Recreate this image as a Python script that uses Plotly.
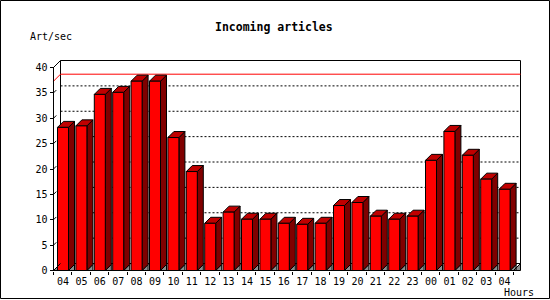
import plotly.graph_objects as go

# ---- data ----
hours = ["04", "05", "06", "07", "08", "09", "10", "11", "12", "13", "14", "15",
         "16", "17", "18", "19", "20", "21", "22", "23", "00", "01", "02", "03", "04"]
art_per_sec = [28.2, 28.5, 34.7, 35.1, 37.3, 37.3, 26.2, 19.5, 9.3, 11.5, 10.1, 10.1,
               9.3, 9.1, 9.3, 12.8, 13.4, 10.7, 10.1, 10.7, 21.7, 27.4, 22.7, 18.0, 16.0]
y_ticks = [0, 5, 10, 15, 20, 25, 30, 35, 40]

# ---- layout constants (pixels) ----
W, H = 550, 300
PX_X = 18.4      # pixels per category
PX_Y = 5.075     # pixels per unit
X0_PX = 53.5     # pixel of x=0
Y0_PX = 270.5    # pixel of y=0
n = len(hours)
ymax_axis = 40

fdx, fdy = 7 / PX_X, 7 / PX_Y        # frame depth
bdx, bdy = 6 / PX_X, 6 / PX_Y        # bar depth
b_off, b_w = 4 / PX_X, 11 / PX_X     # bar front offset and width

FRONT = "#ff0000"
TOP = "#c00000"
SIDE = "#800000"
GREY = "#8c8c8c"

fig = go.Figure()

def poly_trace(polys, fill, line_color="black", width=1, dash=None, mode="lines", closed=True):
    xs, ys = [], []
    for p in polys:
        pts = list(p) + ([p[0]] if closed else [])
        xs += [q[0] for q in pts] + [None]
        ys += [q[1] for q in pts] + [None]
    fig.add_trace(go.Scatter(
        x=xs, y=ys, mode=mode,
        fill="toself" if fill else None,
        fillcolor=fill,
        line=dict(color=line_color, width=width, dash=dash),
        hoverinfo="skip", showlegend=False))

# back wall
poly_trace([[(fdx, fdy), (n + fdx, fdy), (n + fdx, ymax_axis + fdy), (fdx, ymax_axis + fdy)]], "white")

# dotted grid on back wall
grid = [[(fdx, v + fdy), (n + fdx, v + fdy)] for v in y_ticks if 0 < v < ymax_axis]
poly_trace(grid, None, dash="2px,2px", closed=False)

# max line (red)
vmax = max(art_per_sec)
poly_trace([[(0, vmax), (fdx, vmax + fdy), (n + fdx, vmax + fdy)]], None, line_color="#ff0000", closed=False)

# floor triangles at the corners
poly_trace([[(0, 0), (fdx, 0), (fdx, fdy)], [(n, 0), (n + fdx, 0), (n + fdx, fdy)]], GREY)

# bars
grey_tris, sides, tops, fronts = [], [], [], []
for i, v in enumerate(art_per_sec):
    xl = i + b_off
    xr = xl + b_w
    grey_tris.append([(xr, 0), (xr + bdx, 0), (xr + bdx, bdy)])
    sides.append([(xr, 0), (xr + bdx, bdy), (xr + bdx, v + bdy), (xr, v)])
    tops.append([(xl, v), (xr, v), (xr + bdx, v + bdy), (xl + bdx, v + bdy)])
    fronts.append([(xl, 0), (xr, 0), (xr, v), (xl, v)])
poly_trace(grey_tris, GREY)
poly_trace(sides, SIDE)
poly_trace(tops, TOP)
poly_trace(fronts, FRONT)

# frame lines: left wall, floor front, right floor diagonal, side ticks
frame_lines = [
    [(0, 0), (0, ymax_axis)],
    [(0, ymax_axis), (fdx, ymax_axis + fdy)],
    [(0, 0), (n, 0)],
    [(n, 0), (n + fdx, fdy)],
    [(0, 0), (fdx, fdy)],
]
frame_lines += [[(0, v), (0.4 * fdx, v + 0.4 * fdy)] for v in y_ticks if 0 < v < ymax_axis]
poly_trace(frame_lines, None, closed=False)

mono = "DejaVu Sans Mono"
fig.update_layout(
    width=W, height=H,
    margin=dict(l=0, r=0, t=0, b=0, pad=0),
    paper_bgcolor="white", plot_bgcolor="white",
    showlegend=False, hovermode=False,
    xaxis=dict(
        range=[-X0_PX / PX_X, (W - X0_PX) / PX_X],
        anchor="free", position=(H - Y0_PX) / H,
        showgrid=False, zeroline=False, showline=False,
        tickmode="array",
        tickvals=[i + b_off + b_w / 2 for i in range(n)],
        ticktext=hours,
        ticks="outside", ticklen=1, tickcolor="rgba(0,0,0,0)",
        tickfont=dict(family=mono, size=10, color="black"),
        minor=dict(tickmode="array", tickvals=list(range(n + 1)),
                   ticks="outside", ticklen=3, tickwidth=1, tickcolor="black", showgrid=False),
        fixedrange=True,
    ),
    yaxis=dict(
        range=[-(H - Y0_PX) / PX_Y, Y0_PX / PX_Y],
        anchor="free", position=X0_PX / W,
        showgrid=False, zeroline=False, showline=False,
        tickmode="array", tickvals=y_ticks,
        ticks="outside", ticklen=4, tickwidth=1, tickcolor="black",
        tickfont=dict(family=mono, size=10, color="black"),
        fixedrange=True,
    ),
    annotations=[
        dict(text="<b>Incoming articles</b>", xref="paper", yref="paper",
             x=274 / W, y=1 - 27 / H, showarrow=False, xanchor="center", yanchor="middle",
             font=dict(family=mono, size=11.5, color="black")),
        dict(text="Art/sec", xref="paper", yref="paper",
             x=50.5 / W, y=1 - 37 / H, showarrow=False, xanchor="center", yanchor="middle",
             font=dict(family=mono, size=10, color="black")),
        dict(text="Hours", xref="paper", yref="paper",
             x=519 / W, y=1 - 292 / H, showarrow=False, xanchor="center", yanchor="middle",
             font=dict(family=mono, size=10, color="black")),
    ],
    shapes=[dict(type="rect", xref="paper", yref="paper",
                 x0=0.5 / W, x1=(W - 0.5) / W, y0=1 - 298.5 / H, y1=1 - 0.5 / H,
                 line=dict(color="black", width=1), fillcolor="rgba(0,0,0,0)", layer="above")],
)

fig.write_html("out.html")
